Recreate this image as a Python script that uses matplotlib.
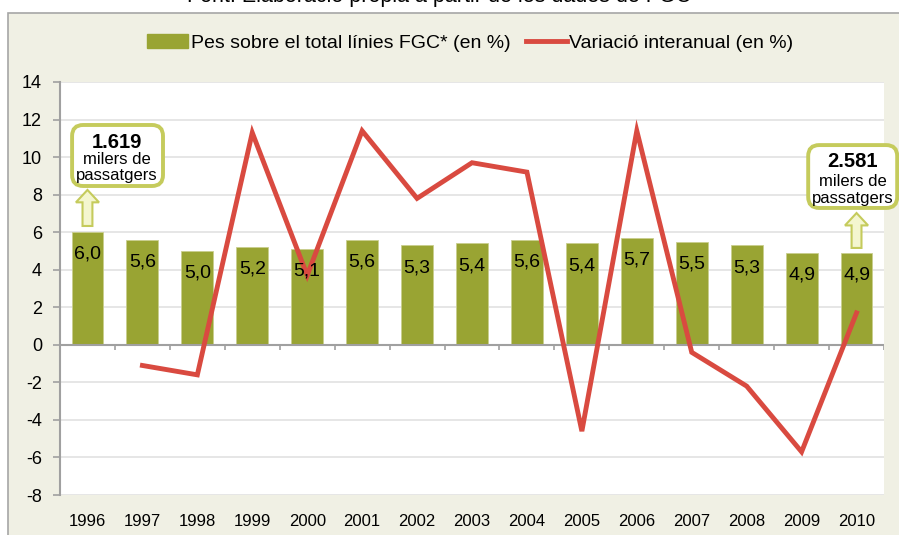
import matplotlib.pyplot as plt
import numpy as np
from matplotlib.patches import FancyBboxPatch, FancyArrow, Rectangle, Patch
from matplotlib.lines import Line2D

plt.rcParams["font.family"] = ["Liberation Sans", "DejaVu Sans"]
plt.rcParams["axes.unicode_minus"] = False

years = ["1996", "1997", "1998", "1999", "2000", "2001", "2002", "2003",
         "2004", "2005", "2006", "2007", "2008", "2009", "2010"]
pes = [6.0, 5.6, 5.0, 5.2, 5.1, 5.6, 5.3, 5.4, 5.6, 5.4, 5.7, 5.5, 5.3, 4.9, 4.9]
variacio = [np.nan, -1.1, -1.6, 11.3, 3.7, 11.4, 7.8, 9.7, 9.2, -4.6, 11.4,
            -0.4, -2.2, -5.7, 1.7]

bar_color = "#99A433"
line_color = "#D94A40"
box_color = "#C5CB5C"

fig = plt.figure(figsize=(8.99, 5.35), dpi=100, facecolor="white")
fig.patches.append(Rectangle((8 / 899, -0.1), 1.1, 1 - 13 / 535 + 0.1,
                             transform=fig.transFigure, fc="#F0F0E4",
                             ec="#A6A6A6", lw=1.2, zorder=-10))
fig.text(0.488, 1.006, "Font: Elaboració pròpia a partir de les dades de FGC",
         ha="center", va="center", fontsize=15.5)

ax = fig.add_axes([60 / 899, 1 - 495 / 535, 824 / 899, 413 / 535])
ax.set_facecolor("white")
x = np.arange(len(years))

ax.bar(x, pes, width=0.58, color=bar_color, edgecolor="#C9CE8E",
       linewidth=0.6, zorder=2)
for xi, v in zip(x, pes):
    ax.annotate(f"{v:.1f}".replace(".", ","), xy=(xi, v), xytext=(0, -16),
                textcoords="offset points", ha="center", va="center",
                fontsize=14, zorder=5)
ax.plot(x, variacio, color=line_color, lw=3.5, zorder=4,
        solid_joinstyle="miter")

ax.set_xlim(-0.5, 14.5)
ax.set_ylim(-8, 14)
ax.set_yticks(np.arange(-8, 15, 2))
ax.set_xticks(x)
ax.set_xticklabels(years)
ax.yaxis.grid(True, color="#E2E2E2", lw=1.2)
ax.set_axisbelow(True)
for s in ["top", "right", "bottom"]:
    ax.spines[s].set_visible(False)
ax.spines["left"].set_color("#A0A0A0")
ax.spines["left"].set_linewidth(1.5)
ax.tick_params(axis="y", length=5, color="#A0A0A0", width=1.2, labelsize=13,
               pad=8)
ax.tick_params(axis="x", length=0, labelsize=12, pad=14)

ax.axhline(0, color="#A0A0A0", lw=1.5, zorder=3)
ax.vlines(np.arange(-0.5, 15, 1), -0.3, 0, color="#A0A0A0", lw=1.2, zorder=3)


def callout(x0, x1, y0, y1, cx, ys, num, ax_x, ay0, ay1):
    box = FancyBboxPatch((x0, y0), x1 - x0, y1 - y0,
                         boxstyle="round,pad=0,rounding_size=0.2",
                         mutation_aspect=54.93 / 18.77, fc="white",
                         ec=box_color, lw=2.8, clip_on=False, zorder=6)
    ax.add_patch(box)
    ax.text(cx, ys[0], num, ha="center", va="center", fontsize=14.5,
            fontweight="bold", zorder=7, clip_on=False)
    ax.text(cx, ys[1], "milers de", ha="center", va="center", fontsize=12,
            zorder=7, clip_on=False)
    ax.text(cx, ys[2], "passatgers", ha="center", va="center", fontsize=12,
            zorder=7, clip_on=False)
    arr = FancyArrow(ax_x, ay0, 0, ay1 - ay0, width=0.18, head_width=0.42,
                     head_length=0.66, length_includes_head=True,
                     fc="#F4F6CF", ec=box_color, lw=1.5, zorder=6,
                     clip_on=False)
    ax.add_patch(arr)


callout(-0.28, 1.375, 8.46, 11.71, 0.54, [10.8, 9.85, 9.0], "1.619",
        0.0, 6.33, 8.25)
callout(13.12, 14.74, 7.29, 10.64, 13.93, [9.74, 8.68, 7.82], "2.581",
        14.0, 5.16, 7.02)

handles = [Patch(facecolor=bar_color, edgecolor=bar_color),
           Line2D([0], [0], color=line_color, lw=3.5)]
fig.legend(handles, ["Pes sobre el total línies FGC* (en %)",
                     "Variació interanual (en %)"],
           loc="center", bbox_to_anchor=(0.523, 1 - 43 / 535), ncol=2,
           frameon=False, fontsize=14, handlelength=2.1, handleheight=0.75,
           handletextpad=0.15, columnspacing=0.8)

fig.savefig("out.png", dpi=100, facecolor="white")
